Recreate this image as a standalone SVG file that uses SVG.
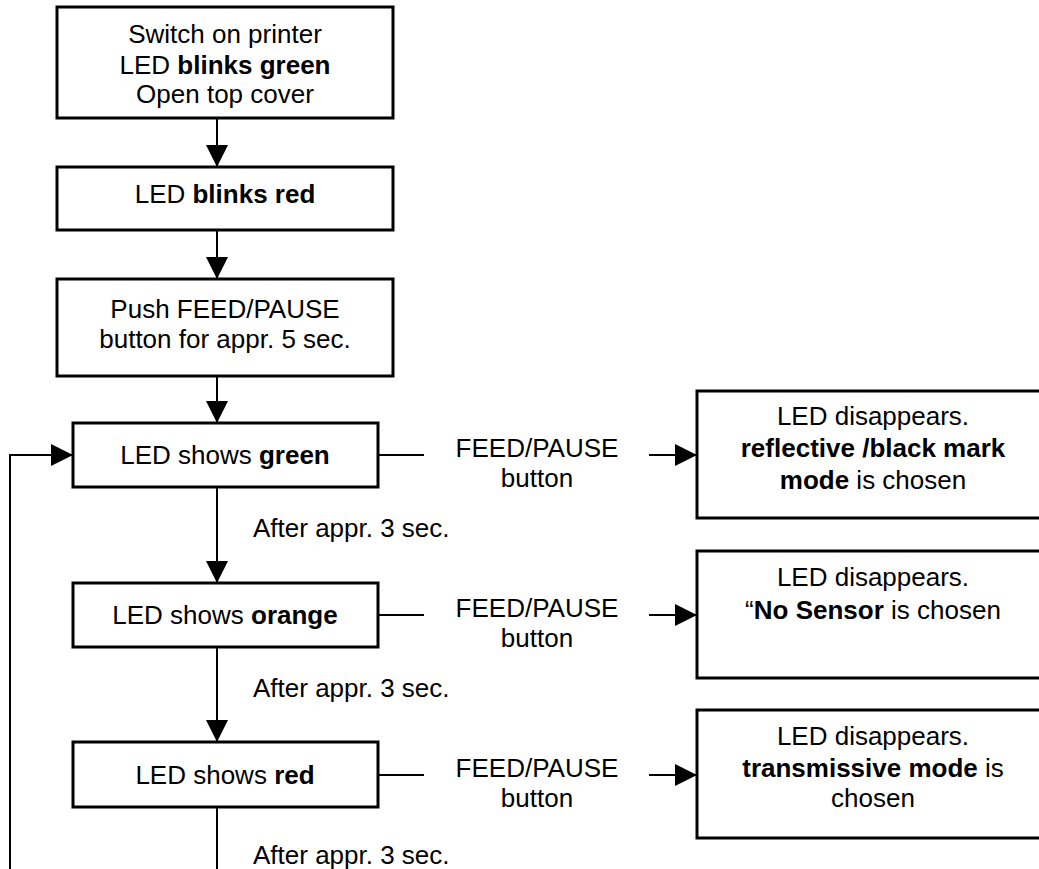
<svg xmlns="http://www.w3.org/2000/svg" width="1039" height="869" viewBox="0 0 1039 869">
<style>
.box{fill:#fff;stroke:#000;stroke-width:3}
.ln{fill:none;stroke:#000;stroke-width:2}
text{font-family:"Liberation Sans",Arial,sans-serif;font-size:26px;fill:#000}
.c{text-anchor:middle}
.b{font-weight:bold}
</style>
<defs>
<marker id="ah" markerUnits="userSpaceOnUse" markerWidth="22" markerHeight="22" refX="22" refY="11" orient="auto">
<path d="M0,0 L22,11 L0,22 Z" fill="#000"/>
</marker>
</defs>
<rect width="1039" height="869" fill="#fff"/>
<g id="connectors">
<line class="ln" x1="217" y1="118" x2="217" y2="167" marker-end="url(#ah)"/>
<line class="ln" x1="217" y1="230" x2="217" y2="279" marker-end="url(#ah)"/>
<line class="ln" x1="217" y1="376" x2="217" y2="423" marker-end="url(#ah)"/>
<line class="ln" x1="217" y1="487" x2="217" y2="583" marker-end="url(#ah)"/>
<line class="ln" x1="217" y1="647" x2="217" y2="742" marker-end="url(#ah)"/>
<line class="ln" x1="217" y1="807" x2="217" y2="870"/>
<polyline class="ln" points="10,870 10,455 73,455" marker-end="url(#ah)"/>
<line class="ln" x1="378" y1="455" x2="424" y2="455"/>
<line class="ln" x1="649" y1="455" x2="697" y2="455" marker-end="url(#ah)"/>
<line class="ln" x1="378" y1="615" x2="424" y2="615"/>
<line class="ln" x1="649" y1="615" x2="697" y2="615" marker-end="url(#ah)"/>
<line class="ln" x1="378" y1="775" x2="424" y2="775"/>
<line class="ln" x1="649" y1="775" x2="697" y2="775" marker-end="url(#ah)"/>
<text x="253" y="537">After appr. 3 sec.</text>
<text x="253" y="697">After appr. 3 sec.</text>
<text x="253" y="864">After appr. 3 sec.</text>
<text class="c" x="537" y="457">FEED/PAUSE</text>
<text class="c" x="537" y="487">button</text>
<text class="c" x="537" y="617">FEED/PAUSE</text>
<text class="c" x="537" y="647">button</text>
<text class="c" x="537" y="777">FEED/PAUSE</text>
<text class="c" x="537" y="807">button</text>
</g>
<g id="n1">
<rect class="box" x="57" y="7" width="336" height="111"/>
<text class="c" x="225" y="43">Switch on printer</text>
<text class="c" x="225" y="74">LED <tspan class="b">blinks green</tspan></text>
<text class="c" x="225" y="103">Open top cover</text>
</g>
<g id="n2">
<rect class="box" x="57" y="167" width="336" height="63"/>
<text class="c" x="225" y="203">LED <tspan class="b">blinks red</tspan></text>
</g>
<g id="n3">
<rect class="box" x="57" y="279" width="336" height="97"/>
<text class="c" x="225" y="318">Push FEED/PAUSE</text>
<text class="c" x="225" y="348">button for appr. 5 sec.</text>
</g>
<g id="n4">
<rect class="box" x="73" y="423" width="305" height="64"/>
<text class="c" x="225" y="464">LED shows <tspan class="b">green</tspan></text>
</g>
<g id="n5">
<rect class="box" x="73" y="583" width="305" height="64"/>
<text class="c" x="225" y="624">LED shows <tspan class="b">orange</tspan></text>
</g>
<g id="n6">
<rect class="box" x="73" y="742" width="305" height="65"/>
<text class="c" x="225" y="784">LED shows <tspan class="b">red</tspan></text>
</g>
<g id="r1">
<rect class="box" x="697" y="391" width="352" height="127"/>
<text class="c" x="873" y="425">LED disappears.</text>
<text class="c b" x="873" y="457">reflective /black mark</text>
<text class="c" x="873" y="489"><tspan class="b">mode</tspan> is chosen</text>
</g>
<g id="r2">
<rect class="box" x="697" y="551" width="352" height="127"/>
<text class="c" x="873" y="586">LED disappears.</text>
<text class="c" x="873" y="619">“<tspan class="b">No Sensor</tspan> is chosen</text>
</g>
<g id="r3">
<rect class="box" x="697" y="710" width="352" height="128"/>
<text class="c" x="873" y="745">LED disappears.</text>
<text class="c" x="873" y="777"><tspan class="b">transmissive mode</tspan> is</text>
<text class="c" x="873" y="807">chosen</text>
</g>
</svg>
